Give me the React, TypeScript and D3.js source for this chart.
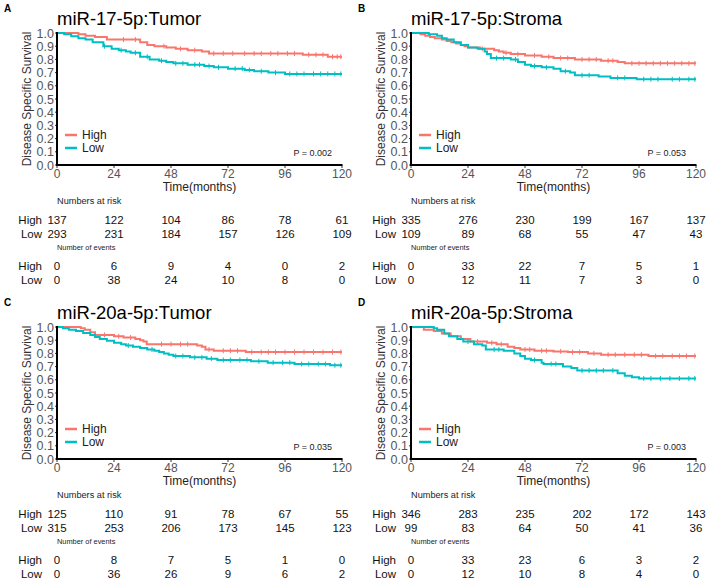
import React from "react";
import * as d3 from "d3";

const panelLetters = ["A", "B", "C", "D"];
const panelTitles = ["miR-17-5p:Tumor", "miR-17-5p:Stroma", "miR-20a-5p:Tumor", "miR-20a-5p:Stroma"];
const pValues = ["P = 0.002", "P = 0.053", "P = 0.035", "P = 0.003"];
const timeTicks = [0, 24, 48, 72, 96, 120];
const survTicks = [0, 0.1, 0.2, 0.3, 0.4, 0.5, 0.6, 0.7, 0.8, 0.9, 1.0];
const groups = ["High", "Low"];

// Numbers at risk
const riskHigh = [
  [137, 122, 104, 86, 78, 61],
  [335, 276, 230, 199, 167, 137],
  [125, 110, 91, 78, 67, 55],
  [346, 283, 235, 202, 172, 143],
];
const riskLow = [
  [293, 231, 184, 157, 126, 109],
  [109, 89, 68, 55, 47, 43],
  [315, 253, 206, 173, 145, 123],
  [99, 83, 64, 50, 41, 36],
];
// Number of events
const eventsHigh = [
  [0, 6, 9, 4, 0, 2],
  [0, 33, 22, 7, 5, 1],
  [0, 8, 7, 5, 1, 0],
  [0, 33, 23, 6, 3, 2],
];
const eventsLow = [
  [0, 38, 24, 10, 8, 0],
  [0, 12, 11, 7, 3, 0],
  [0, 36, 26, 9, 6, 2],
  [0, 12, 10, 8, 4, 0],
];

// KM step points: [month, survival after step]
const stepsHighA = [[9, 0.99], [12, 0.98], [16, 0.97], [21, 0.95], [35, 0.93], [38, 0.91], [41, 0.9], [46, 0.89], [50, 0.88], [55, 0.87], [61, 0.86], [64, 0.845], [103.5, 0.835], [114, 0.82]];
const stepsLowA = [[3, 0.99], [6, 0.975], [9, 0.96], [12, 0.95], [15, 0.93], [19.5, 0.9], [23, 0.88], [26, 0.87], [29, 0.86], [31, 0.85], [35, 0.82], [39, 0.8], [43, 0.79], [46, 0.78], [49, 0.77], [55, 0.76], [62, 0.75], [66, 0.74], [72, 0.73], [79, 0.72], [83, 0.71], [89, 0.7], [96, 0.69]];
const stepsHighB = [[4, 0.99], [6, 0.98], [8, 0.97], [10, 0.96], [13, 0.95], [15, 0.94], [17, 0.93], [19, 0.92], [21, 0.91], [22.5, 0.9], [24, 0.89], [29, 0.88], [35, 0.87], [37, 0.86], [39, 0.85], [42, 0.84], [48, 0.83], [55, 0.82], [60, 0.81], [69, 0.8], [80, 0.79], [87, 0.78], [90, 0.77]];
const stepsLowB = [[7.5, 0.99], [11, 0.98], [13, 0.96], [15, 0.95], [18, 0.93], [21, 0.91], [24, 0.89], [28, 0.88], [31, 0.86], [32, 0.84], [33.6, 0.81], [42, 0.8], [45, 0.78], [48, 0.76], [50.5, 0.75], [55, 0.74], [60, 0.73], [63, 0.71], [67, 0.7], [69, 0.68], [79, 0.67], [84, 0.66], [95, 0.65]];
const stepsHighC = [[10, 0.99], [11.7, 0.98], [14, 0.96], [16, 0.94], [24, 0.93], [28, 0.92], [33, 0.91], [35, 0.9], [36.4, 0.89], [37.8, 0.87], [59, 0.86], [61, 0.85], [62.5, 0.83], [66, 0.82], [79.5, 0.81]];
const stepsLowC = [[2.5, 0.99], [5, 0.98], [8, 0.97], [11, 0.955], [14, 0.94], [16, 0.925], [18, 0.91], [21, 0.895], [24, 0.88], [27, 0.87], [29, 0.86], [32, 0.85], [35, 0.84], [38, 0.83], [41, 0.82], [43, 0.81], [45, 0.8], [47, 0.79], [49, 0.78], [56, 0.77], [63, 0.76], [67.5, 0.75], [81.6, 0.74], [88.7, 0.73], [100, 0.72], [115, 0.71]];
const stepsHighD = [[5.4, 0.98], [9.6, 0.97], [13, 0.95], [16.7, 0.93], [21, 0.91], [25, 0.89], [32, 0.88], [36, 0.87], [40.7, 0.85], [43.5, 0.84], [46, 0.83], [52, 0.82], [60, 0.815], [66, 0.81], [74.5, 0.8], [80, 0.79], [100, 0.78]];
const stepsLowD = [[9.6, 0.99], [11, 0.98], [14, 0.95], [16, 0.93], [19.5, 0.91], [22, 0.89], [26.5, 0.87], [30, 0.86], [31.5, 0.83], [39, 0.82], [43.5, 0.8], [46, 0.78], [48, 0.76], [50.5, 0.75], [55, 0.73], [55.8, 0.72], [64, 0.7], [67.5, 0.69], [70, 0.67], [87, 0.65], [90, 0.63], [93, 0.62], [96, 0.61]];

// Censoring times (months)
const censorHighA = [28, 33, 45, 52, 58, 66, 70, 74, 79, 83, 86, 90, 93, 97, 100, 106, 109, 112, 116, 118, 119.5];
const censorLowA = [20, 27, 33, 38, 44, 50, 53, 58, 60, 64, 68, 75, 78, 81, 86, 92, 98, 101, 104, 108, 111, 114, 117, 119.5];
const censorHighB = [30, 40, 45, 52, 58, 63, 66, 72, 75, 78, 83, 85, 93, 96, 99, 102, 105, 108, 111, 114, 117, 119.5];
const censorLowB = [36, 39, 44, 52, 57, 65, 72, 75, 87, 90, 98, 101, 104, 110, 113, 117, 119.5];
const censorHighC = [20, 26, 31, 44, 48, 52, 55, 64, 70, 73, 76, 82, 86, 89, 92, 96, 100, 104, 108, 112, 116, 119.5];
const censorLowC = [30, 40, 50, 53, 58, 61, 65, 70, 73, 77, 80, 85, 91, 95, 98, 103, 106, 110, 113, 117, 119.5];
const censorHighD = [28, 34, 38, 48, 50, 55, 57, 63, 68, 71, 77, 83, 86, 90, 94, 97, 103, 106, 110, 113, 116, 119.5];
const censorLowD = [24, 35, 37, 52, 59, 61, 72, 75, 78, 81, 85, 98, 101, 105, 109, 113, 117, 119.5];

const stepsHigh = [stepsHighA, stepsHighB, stepsHighC, stepsHighD];
const stepsLow = [stepsLowA, stepsLowB, stepsLowC, stepsLowD];
const censorHigh = [censorHighA, censorHighB, censorHighC, censorHighD];
const censorLow = [censorLowA, censorLowB, censorLowC, censorLowD];

const colors = ["#F8766D", "#00BFC4"];
const FONT = "'Liberation Sans', Arial, Helvetica, sans-serif";

const x = d3.scaleLinear().domain([0, 120]).range([57, 342]);
const y = d3.scaleLinear().domain([0, 1]).range([165, 33]);

function survAt(steps: number[][], t: number) {
  let s = 1;
  for (const [st, sv] of steps) {
    if (st <= t) s = sv;
  }
  return s;
}

function curvePath(steps: number[][]) {
  const pts: [number, number][] = [[0, 1]];
  steps.forEach(([t, s]) => pts.push([t, s]));
  pts.push([120, steps[steps.length - 1][1]]);
  const line = d3
    .line<[number, number]>()
    .x((d) => x(d[0]))
    .y((d) => y(d[1]))
    .curve(d3.curveStepAfter);
  return line(pts) || "";
}

function Panel({ i }: { i: number }) {
  const ox = (i % 2) * 354;
  const oy = Math.floor(i / 2) * 294;
  const curves = [
    { steps: stepsHigh[i], censor: censorHigh[i], color: colors[0] },
    { steps: stepsLow[i], censor: censorLow[i], color: colors[1] },
  ];
  const rowLabelX = 42;
  return (
    <g transform={`translate(${ox},${oy})`} fontFamily={FONT}>
      <text x={4} y={12} fontSize={10} fontWeight="bold">{panelLetters[i]}</text>
      <text x={57} y={25} fontSize={18.5}>{panelTitles[i]}</text>
      {/* y ticks */}
      {survTicks.map((v) => (
        <g key={v}>
          <line x1={55} x2={57} y1={y(v)} y2={y(v)} stroke="#333" strokeWidth={1} />
          <text x={54} y={y(v)} dy="0.36em" textAnchor="end" fontSize={12.5} fill="#555">
            {v.toFixed(1)}
          </text>
        </g>
      ))}
      {/* x ticks */}
      {timeTicks.map((t) => (
        <g key={t}>
          <line x1={x(t)} x2={x(t)} y1={165} y2={168} stroke="#333" strokeWidth={1} />
          <text x={x(t)} y={177.5} textAnchor="middle" fontSize={12} fill="#555">{t}</text>
        </g>
      ))}
      <text
        transform={`translate(31,${(y(0) + y(1)) / 2}) rotate(-90)`}
        textAnchor="middle"
        fontSize={12}
        fill="#333"
      >
        Disease Specific Survival
      </text>
      <text x={(x(0) + x(120)) / 2} y={191} textAnchor="middle" fontSize={12} fill="#222">
        Time(months)
      </text>
      {/* curves */}
      {curves.map((c, k) => (
        <g key={k}>
          <path d={curvePath(c.steps)} fill="none" stroke={c.color} strokeWidth={2} />
          {c.censor.map((t, j) => (
            <line
              key={j}
              x1={x(t)}
              x2={x(t)}
              y1={y(survAt(c.steps, t)) - 2.5}
              y2={y(survAt(c.steps, t)) + 2.5}
              stroke={c.color}
              strokeWidth={1}
            />
          ))}
        </g>
      ))}
      {/* axes */}
      <line x1={57} x2={57} y1={32} y2={166} stroke="#000" strokeWidth={2} />
      <line x1={56} x2={342.5} y1={165} y2={165} stroke="#000" strokeWidth={2} />
      {/* legend */}
      {groups.map((g, k) => (
        <g key={g}>
          <line x1={65} x2={77} y1={135 + k * 13} y2={135 + k * 13} stroke={colors[k]} strokeWidth={2.5} />
          <text x={82} y={135 + k * 13} dy="0.36em" fontSize={12} fill="#222">{g}</text>
        </g>
      ))}
      <text x={332} y={156} textAnchor="end" fontSize={9} fill="#222">{pValues[i]}</text>
      {/* risk table */}
      <text x={57} y={204} fontSize={9.2} fill="#222">Numbers at risk</text>
      {[riskHigh[i], riskLow[i]].map((row, k) => (
        <g key={k} fontSize={11.5} fill="#111">
          <text x={rowLabelX} y={224 + k * 14} textAnchor="end">{groups[k]}</text>
          {row.map((v, j) => (
            <text key={j} x={x(timeTicks[j])} y={224 + k * 14} textAnchor="middle">{v}</text>
          ))}
        </g>
      ))}
      <text x={57} y={250} fontSize={7.4} fill="#222">Number of events</text>
      {[eventsHigh[i], eventsLow[i]].map((row, k) => (
        <g key={k} fontSize={11.5} fill="#111">
          <text x={rowLabelX} y={270 + k * 14} textAnchor="end">{groups[k]}</text>
          {row.map((v, j) => (
            <text key={j} x={x(timeTicks[j])} y={270 + k * 14} textAnchor="middle">{v}</text>
          ))}
        </g>
      ))}
    </g>
  );
}

export default function App() {
  return (
    <svg width={708} height={584} style={{ position: "absolute", left: 0, top: 0, background: "#fff" }}>
      <rect width={708} height={584} fill="#fff" />
      {[0, 1, 2, 3].map((i) => (
        <Panel key={i} i={i} />
      ))}
    </svg>
  );
}
